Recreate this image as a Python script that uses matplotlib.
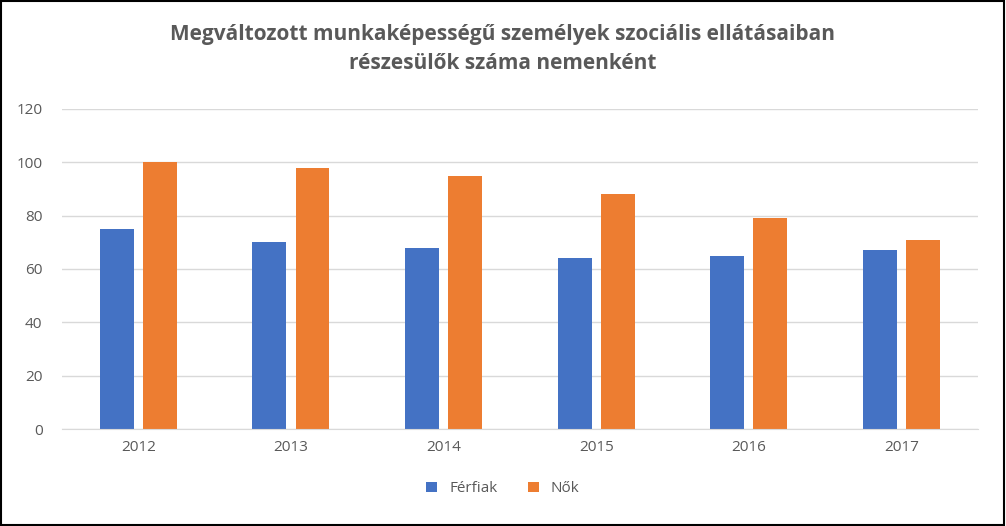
import matplotlib.pyplot as plt
import numpy as np
from matplotlib.patches import Rectangle

years = ["2012", "2013", "2014", "2015", "2016", "2017"]
ferfiak = [75, 70, 68, 64, 65, 67]
nok = [100, 98, 95, 88, 79, 71]

plt.rcParams["font.family"] = "Open Sans"
fig = plt.figure(figsize=(10.06, 5.26), dpi=100)
ax = fig.add_axes([0.0616, 0.1844, 0.9104, 0.6084])

x = np.arange(len(years))
w = 0.222
ax.bar(x - 0.141, ferfiak, w, color="#4472C4", label="Férfiak")
ax.bar(x + 0.141, nok, w, color="#ED7D31", label="Nők")

ax.set_xlim(-0.5, len(years) - 0.5)
ax.set_ylim(0, 120)
ax.set_yticks(range(0, 121, 20))
ax.set_xticks(x, years)
ax.grid(axis="y", color="#D9D9D9", linewidth=1)
ax.set_axisbelow(True)
for s in ["top", "right", "left"]:
    ax.spines[s].set_visible(False)
ax.spines["bottom"].set_color("#D9D9D9")
ax.tick_params(length=0, labelsize=11, colors="#595959", pad=8)
ax.tick_params(axis="y", pad=14)

fig.suptitle("Megváltozott munkaképességű személyek szociális ellátásaiban\nrészesülők száma nemenként",
             y=0.955, fontsize=15, fontweight="bold", color="#595959", linespacing=1.5)
fig.legend(loc="lower center", bbox_to_anchor=(0.5, 0.03), ncol=2, frameon=False,
           fontsize=11, labelcolor="#595959", handlelength=0.7, handleheight=0.7, columnspacing=2)
fig.patches.append(Rectangle((0.001, 0.002), 0.997, 0.996, transform=fig.transFigure,
                             fill=False, edgecolor="black", linewidth=1.5))
fig.savefig("out.png", dpi=100)
